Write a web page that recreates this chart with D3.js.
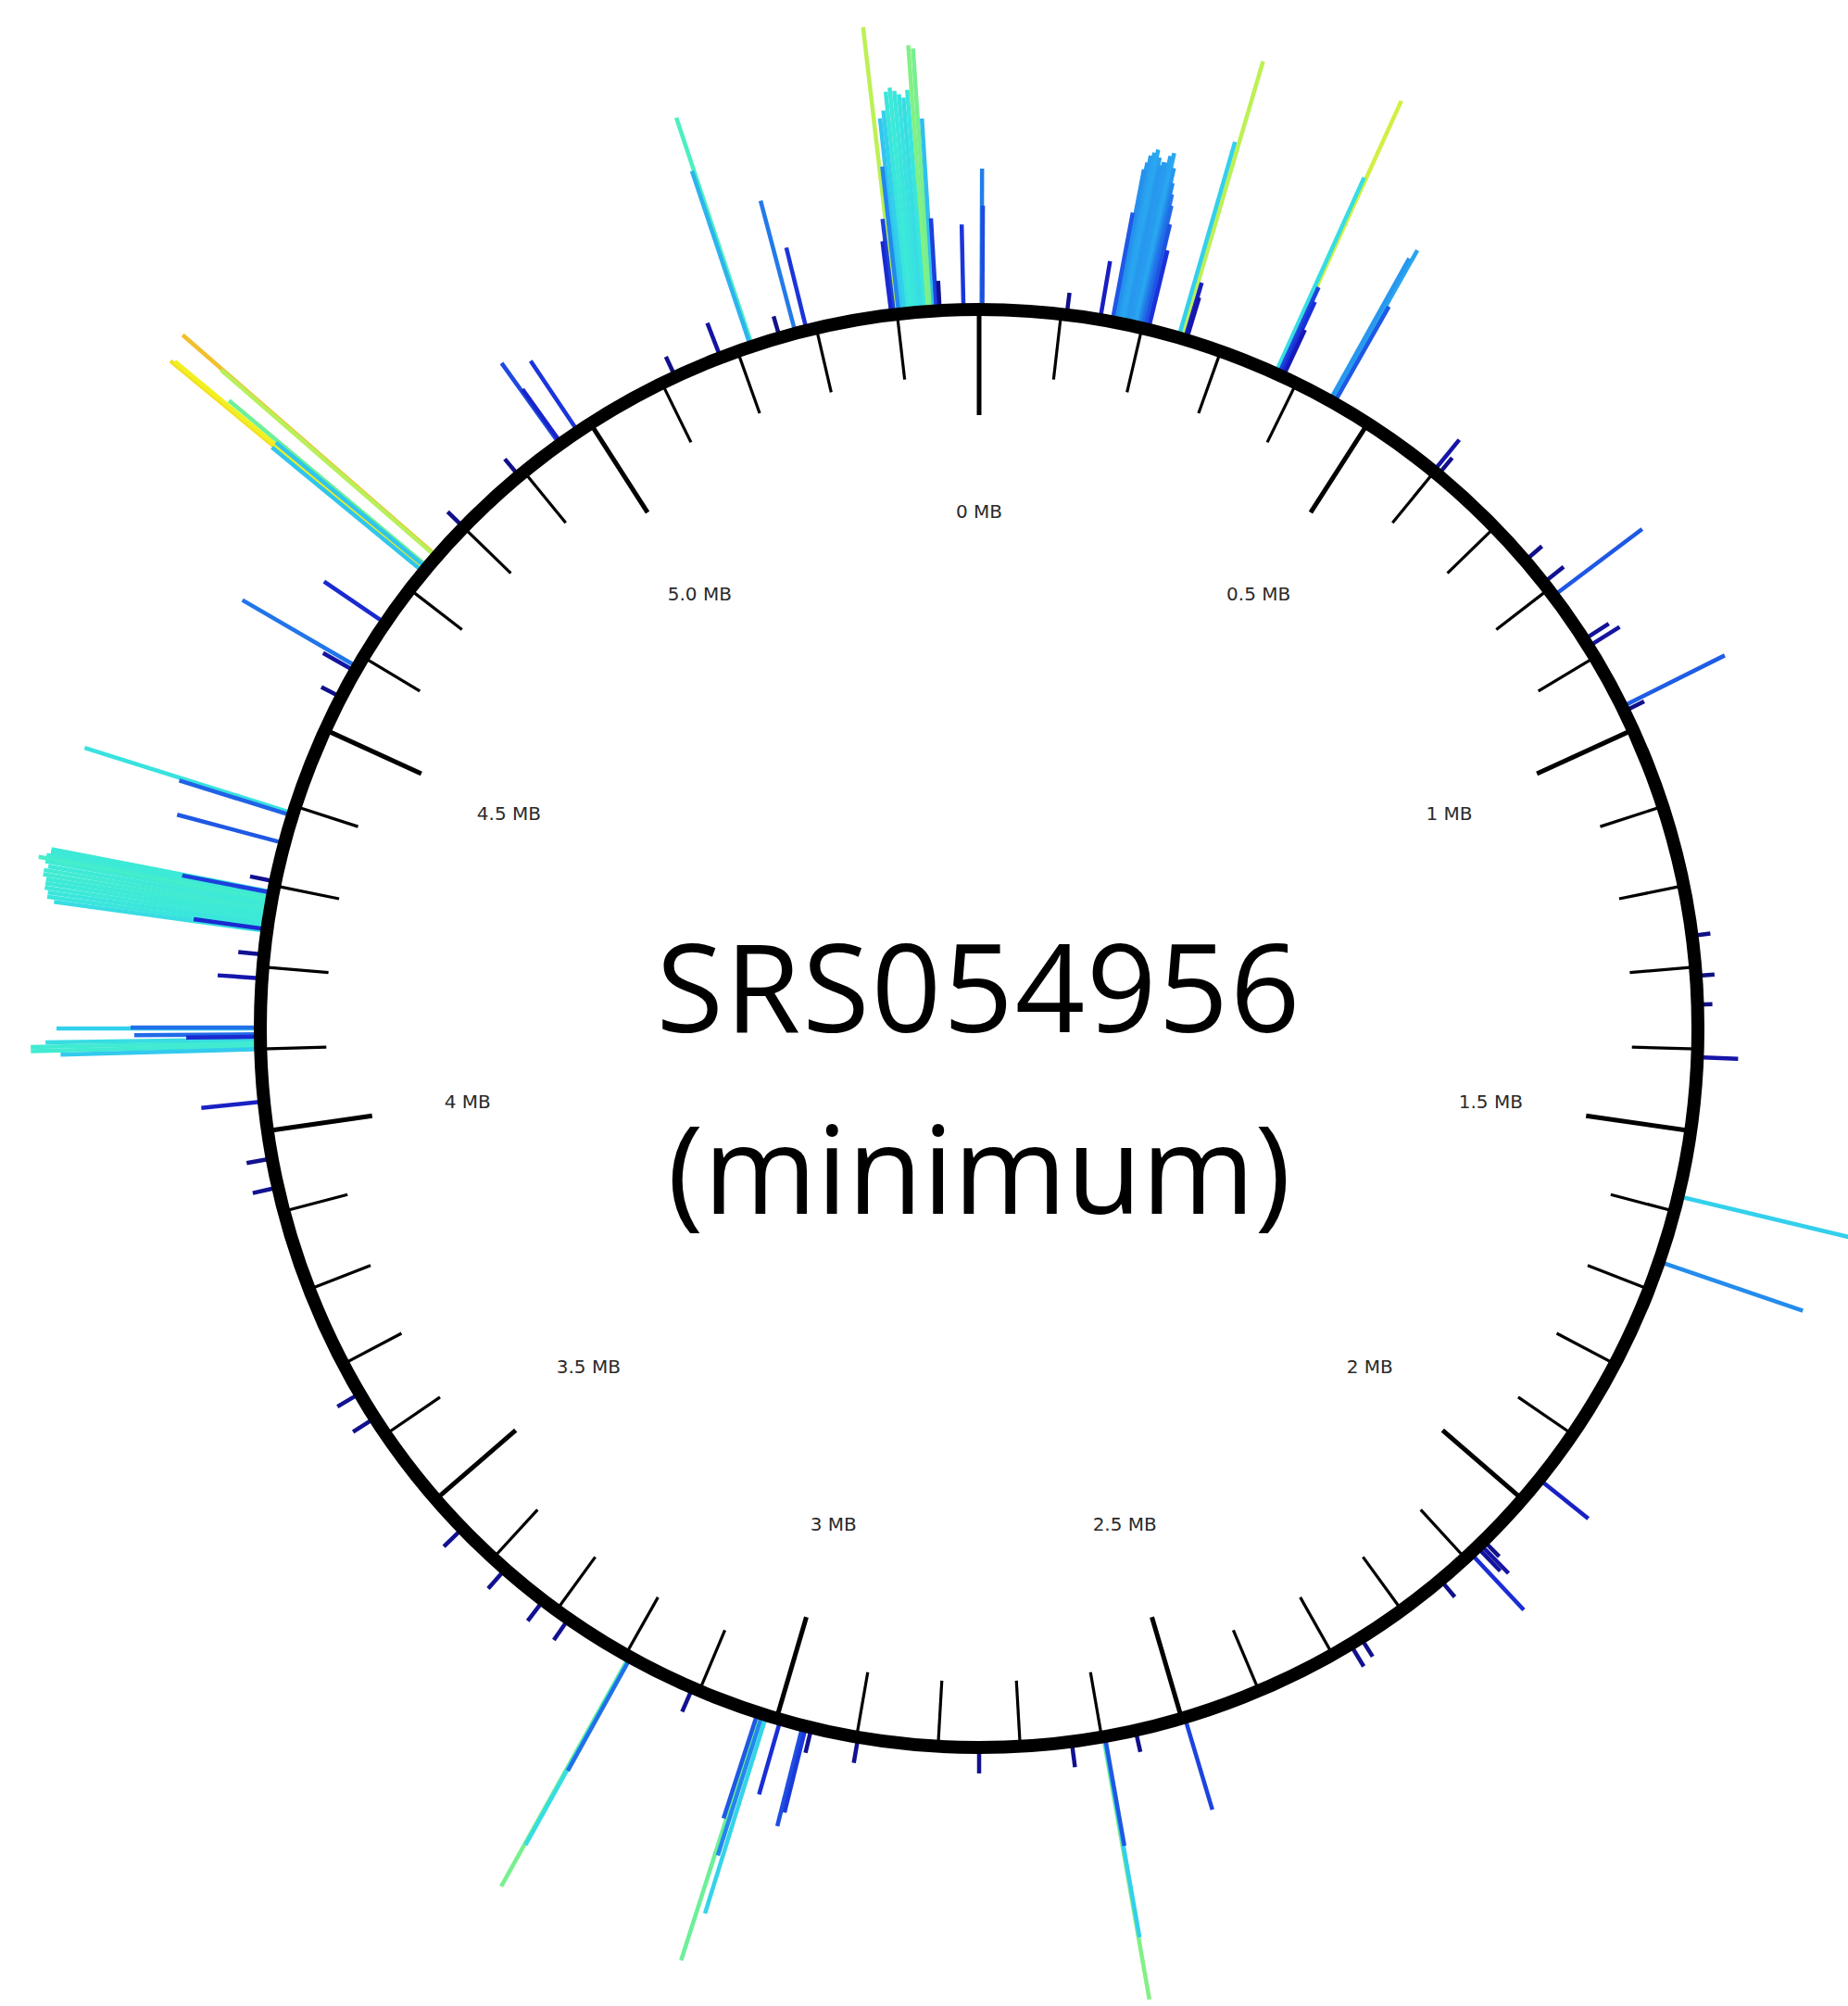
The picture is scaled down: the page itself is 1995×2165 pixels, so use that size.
<!DOCTYPE html>
<html><head><meta charset="utf-8">
<script src="https://cdn.jsdelivr.net/npm/d3@7"></script>
<style>html,body{margin:0;padding:0;background:#fff;} svg{display:block}</style>
</head><body><svg id="chart" width="1995" height="2165"></svg>
<script>
// ---------------- data ----------------
const genomeLengthMB = 5.5;
const title = "SRS054956";
const subtitle = "(minimum)";
const tickLabels = ["0 MB","0.5 MB","1 MB","1.5 MB","2 MB","2.5 MB","3 MB","3.5 MB","4 MB","4.5 MB","5.0 MB"];
const tickLabelPos = [0,0.5,1,1.5,2,2.5,3,3.5,4,4.5,5];
// coverage spikes: genome position (MB) and relative depth (0-100)
const spikePos = [
  5.393,5.396,5.399,5.402,5.405,5.409,5.413,5.417,5.421,5.425,5.429,5.433,5.437,5.441,5.445,5.448,5.452,
  5.481,0.003,0.004,
  5.118,5.178,5.217,5.219,5.254,5.274,5.288,
  0.107,0.148,0.163,0.166,0.168,0.170,0.173,0.176,0.179,0.181,0.184,0.186,0.189,0.192,0.195,0.197,0.199,0.201,0.204,0.208,
  0.246,0.250,0.254,0.256,
  0.372,0.374,0.376,0.379,0.382,0.446,0.449,0.452,
  0.599,0.606,0.755,0.790,0.810,0.875,0.885,0.969,0.975,
  1.262,1.311,1.346,1.410,1.581,1.664,
  1.968,2.069,2.075,2.080,2.091,2.140,2.260,2.275,
  2.496,2.558,2.596,2.597,2.598,2.637,2.750,2.898,
  2.956,2.963,2.967,2.995,3.013,3.018,3.021,3.024,3.109,
  3.193,3.194,3.195,3.282,3.320,3.380,3.452,3.624,3.659,
  3.930,3.966,4.036,
  4.100,4.104,4.108,4.112,4.115,4.118,4.125,4.126,4.186,4.215,
  4.244,4.248,4.252,4.256,4.260,4.264,4.268,4.272,4.276,4.280,4.283,4.286,4.289,4.292,
  4.246,4.291,4.305,4.353,4.388,4.391,
  4.544,4.580,4.586,4.649,
  4.727,4.729,4.731,4.733,4.735,4.751,4.752,
  4.800,4.892,4.955,4.957,4.982
];
const spikeVal = [
  20,26,78,40,53,55,60,61,60,59,58,60,72,71,52,25,8,
  23,38,28,
  6,10,50,65,6,37,23,
  6,16,30,42,44,46,47,48,46,44,45,45,47,48,44,40,37,34,29,22,
  55,78,16,12,
  58,81,26,22,14,44,47,30,
  11,6,6,7,30,8,10,31,6,
  5,5,4,11,55,41,
  17,6,11,9,21,6,6,7,
  26,6,30,55,72,7,7,7,
  7,24,28,21,56,40,70,30,7,
  35,58,71,7,7,7,7,7,7,
  7,7,17,
  54,62,62,58,20,34,55,35,12,7,
  58,60,60,61,61,61,62,62,61,62,64,62,61,61,
  20,25,7,30,32,59,
  6,10,36,20,
  53,89,88,53,70,77,91,
  6,6,27,18,23
];

// ---------------- layout / style ----------------
const W = 1995, H = 2165;
const cx = 1057, cy = 1110, R = 776;
const colorStops = [0, 6, 14, 22, 30, 40, 48, 55, 60, 64, 70, 76, 82, 88, 92];
const colorRange = ["#0c0c70","#10108a","#1818b8","#1a30d8","#1f58e4","#2388ec","#2aa8f0","#33d0ec",
                    "#3ae6dc","#45f0c8","#6cf098","#b0f060","#d8f040","#f2f020","#f0b030"];

const svg = d3.select("#chart");
const g = svg.append("g").attr("transform", `translate(${cx},${cy})`);

const angle = d3.scaleLinear().domain([0, genomeLengthMB]).range([0, 2 * Math.PI]);
const radius = d3.scaleLinear().domain([0, 100]).range([R, R + 400]);
const color = d3.scaleLinear().domain(colorStops).range(colorRange).interpolate(d3.interpolateRgb).clamp(true);

const spikes = spikePos.map((p, i) => ({pos: p, val: spikeVal[i]}))
  .sort((a, b) => b.val - a.val);

g.append("g").attr("class", "spikes")
  .selectAll("line").data(spikes).join("line")
  .attr("x1", d => d3.pointRadial(angle(d.pos), R)[0])
  .attr("y1", d => d3.pointRadial(angle(d.pos), R)[1])
  .attr("x2", d => d3.pointRadial(angle(d.pos), radius(d.val))[0])
  .attr("y2", d => d3.pointRadial(angle(d.pos), radius(d.val))[1])
  .attr("stroke", d => color(d.val))
  .attr("stroke-width", 4.5)
  .attr("stroke-linecap", "butt");

// main circle
g.append("circle").attr("r", R).attr("fill", "none").attr("stroke", "#000").attr("stroke-width", 14);

// ticks every 0.1 MB
const ticks = d3.range(0, Math.round(genomeLengthMB * 10)).map(i => ({pos: i / 10, major: i % 5 === 0}));
g.append("g").attr("class", "ticks")
  .selectAll("line").data(ticks).join("line")
  .attr("x1", d => d3.pointRadial(angle(d.pos), R)[0])
  .attr("y1", d => d3.pointRadial(angle(d.pos), R)[1])
  .attr("x2", d => d3.pointRadial(angle(d.pos), R - (d.major ? 114 : 71))[0])
  .attr("y2", d => d3.pointRadial(angle(d.pos), R - (d.major ? 114 : 71))[1])
  .attr("stroke", "#000")
  .attr("stroke-width", d => d.major ? 5 : 3.2);

// tick labels
g.append("g").attr("class", "labels")
  .selectAll("text").data(tickLabels).join("text")
  .attr("x", (d, i) => d3.pointRadial(angle(tickLabelPos[i]), 558)[0])
  .attr("y", (d, i) => d3.pointRadial(angle(tickLabelPos[i]), 558)[1])
  .attr("text-anchor", "middle")
  .attr("dominant-baseline", "central")
  .attr("font-family", "DejaVu Sans, sans-serif")
  .attr("font-size", 20)
  .attr("fill", "#2a2a2a")
  .text(d => d);

// title
g.append("text").attr("x", 0).attr("y", 4)
  .attr("text-anchor", "middle")
  .attr("font-family", "Open Sans, sans-serif")
  .attr("font-size", 132).attr("letter-spacing", 2).attr("fill", "#000")
  .text(title);
g.append("text").attr("x", 0).attr("y", 200)
  .attr("text-anchor", "middle")
  .attr("font-family", "Open Sans, sans-serif")
  .attr("font-size", 132).attr("fill", "#000")
  .text(subtitle);
</script>
</body></html>
